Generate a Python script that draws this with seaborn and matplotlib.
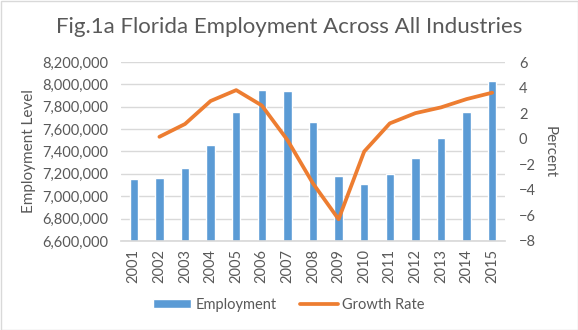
import matplotlib
matplotlib.use("Agg")
import matplotlib.pyplot as plt
import matplotlib.ticker as mticker
import seaborn as sns
import numpy as np
import pandas as pd

years = ["2001", "2002", "2003", "2004", "2005", "2006", "2007", "2008",
         "2009", "2010", "2011", "2012", "2013", "2014", "2015"]
employment = [7154000, 7163000, 7250000, 7461000, 7750000, 7950000, 7941000,
              7664000, 7181000, 7109000, 7199000, 7342000, 7521000, 7753000, 8033000]
growth = [np.nan, 0.15, 1.15, 2.95, 3.8, 2.6, -0.1, -3.5, -6.3, -1.0,
          1.2, 2.0, 2.45, 3.1, 3.6]

sns.set_theme(style="white")
plt.rcParams["font.family"] = ["Lato", "DejaVu Sans"]
txt = "#595959"
blue = "#5B9BD5"
orange = "#ED7D31"

df = pd.DataFrame({"Year": years, "Employment": employment, "Growth": growth})
df["idx"] = np.arange(len(years))

fig = plt.figure(figsize=(5.78, 3.30), dpi=100)
ax = fig.add_axes([121/578, 1 - 241/330, (505-121)/578, (241-62)/330])

sns.barplot(data=df, x="Year", y="Employment", color=blue, width=0.33,
            saturation=1, ax=ax, label="Employment", zorder=2)
ax.set_ylim(6600000, 8200000)
ax.set_yticks(np.arange(6600000, 8200001, 200000))
ax.yaxis.set_major_formatter(mticker.FuncFormatter(lambda v, p: f"{int(v):,}"))
ax.grid(axis="y", color="#D9D9D9", linewidth=1, zorder=0)
ax.set_axisbelow(True)
ax.set_xlim(-0.5, len(years) - 0.5)
for s in ["top", "right", "left"]:
    ax.spines[s].set_visible(False)
ax.spines["bottom"].set_color("#D9D9D9")
ax.tick_params(axis="both", colors=txt, labelsize=10.5, length=0)
ax.tick_params(axis="y", pad=9)
ax.tick_params(axis="x", rotation=90, pad=6)
ax.set_xlabel("")
ax.set_ylabel("Employment Level", color=txt, fontsize=11, labelpad=5)

ax2 = ax.twinx()
sns.lineplot(data=df, x="idx", y="Growth", color=orange, linewidth=2.7,
             ax=ax2, label="Growth Rate", legend=False)
ax2.set_ylim(-8, 6)
ax2.set_yticks(np.arange(-8, 7, 2))
ax2.set_xlim(-0.5, len(years) - 0.5)
for s in ["top", "right", "left", "bottom"]:
    ax2.spines[s].set_visible(False)
ax2.tick_params(axis="y", colors=txt, labelsize=10.5, length=0, pad=10)
ax2.set_ylabel("Percent", color=txt, fontsize=11, rotation=270, labelpad=15)
ax2.set_xlabel("")

if ax.get_legend() is not None:
    ax.get_legend().remove()
h1, l1 = ax.get_legend_handles_labels()
h2, l2 = ax2.get_legend_handles_labels()
fig.legend(h1 + h2, l1 + l2, loc="center", bbox_to_anchor=(0.5, 1 - 305/330),
           ncol=2, frameon=False, fontsize=10.5, labelcolor=txt,
           handlelength=2.6, handleheight=0.6, columnspacing=1.6, handletextpad=0.3)

fig.text(0.5, 1 - 27/330, "Fig.1a Florida Employment Across All Industries",
         ha="center", va="center", fontsize=16, color=txt)

fig.patches.append(plt.Rectangle((0.5/578, 0.5/330), 1 - 1/578, 1 - 1/330,
                                 transform=fig.transFigure, fill=False,
                                 edgecolor="#D9D9D9", linewidth=1))

fig.savefig("out.png", dpi=100, facecolor="white")
